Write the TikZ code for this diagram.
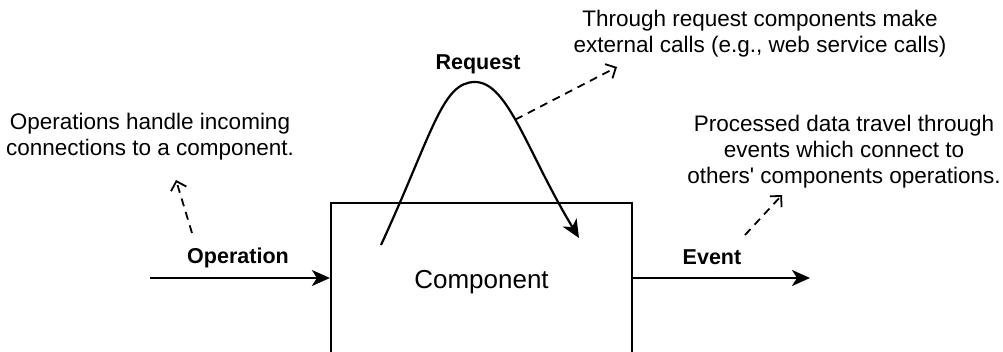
\documentclass[tikz,border=0pt]{standalone}
\usepackage{fontspec}
\setmainfont{Liberation Sans}
\usetikzlibrary{arrows.meta,positioning}

\tikzset{
  flow/.style={line width=2.2pt, -{Stealth[length=18pt,width=16pt,inset=5pt]}},
  hint/.style={line width=1.8pt, dash pattern=on 8pt off 6pt, -{Straight Barb[length=8pt,width=16pt]}},
  note/.style={align=center, font=\fontsize{22.5}{26}\selectfont},
  tag/.style={font=\bfseries\fontsize{21.5}{26}\selectfont}
}

\begin{document}
\begin{tikzpicture}[x=1pt,y=1pt]
	%%%%% START %%%%%
	\useasboundingbox (0,0) rectangle (1003,352);

	\node[draw, line width=2.2pt, minimum width=301pt, minimum height=158pt, font=\fontsize{26}{30}\selectfont] (comp) at (481.5,70) {Component};

	\node[note] (opnote) at (150,215) {Operations handle incoming\\connections to a component.};
	\node[note] (reqnote) at (760,318) {Through request components make\\external calls (e.g., web service calls)};
	\node[note] (evnote) at (844,200) {Processed data travel through\\events which connect to\\others\textquotesingle{} components operations.};

	\node[tag] (optag) at (238,94) {Operation};
	\node[tag] (evtag) at (712,95) {Event};
	\node[tag] (reqtag) at (478,288) {Request};

	\coordinate (opin) at (150,74);
	\coordinate (evout) at (810,74);
	\draw[flow] (opin) -- (opin -| comp.west);
	\draw[flow] (evout -| comp.east) -- (evout);

	\coordinate (reqstart) at (381,107);
	\coordinate (reqtop) at (475,270);
	\coordinate (reqend) at (579,114);
	\draw[flow] (reqstart) .. controls (433,220) and (442,270) .. (reqtop)
		.. controls (508,270) and (527,200) .. (reqend) coordinate[pos=0.45] (reqfork);

	\coordinate (reqhint) at (617,285);
	\coordinate (opfoot) at (192,119);
	\coordinate (ophint) at (176,172);
	\coordinate (evfoot) at (745,117);
	\coordinate (evhint) at (782,157);
	\draw[hint] (reqfork) -- (reqhint);
	\draw[hint] (opfoot) -- (ophint);
	\draw[hint] (evfoot) -- (evhint);
	%%%%% END %%%%%
\end{tikzpicture}
\end{document}
